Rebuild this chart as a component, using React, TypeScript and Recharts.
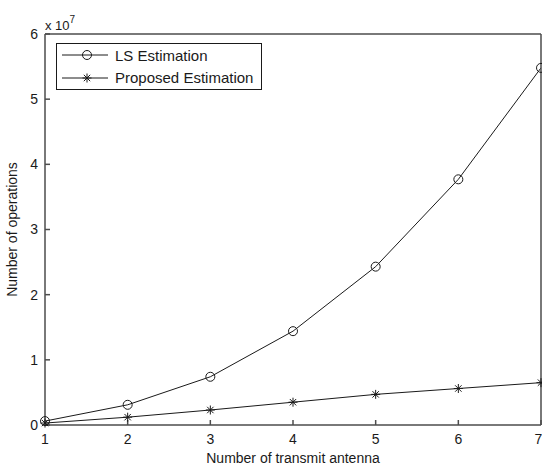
import React from "react";
import { LineChart, Line, XAxis, YAxis, Legend, Label } from "recharts";

// values in units of 1e7 operations
const antennas = [1, 2, 3, 4, 5, 6, 7];
const lsOps = [0.06, 0.31, 0.74, 1.44, 2.43, 3.77, 5.48];
const proposedOps = [0.03, 0.12, 0.23, 0.35, 0.47, 0.56, 0.65];
const xTicks = [1, 2, 3, 4, 5, 6, 7];
const yTicks = [0, 1, 2, 3, 4, 5, 6];

const data = antennas.map((n, i) => ({
  n,
  ls: lsOps[i],
  proposed: proposedOps[i],
}));

const INK = "#1a1a1a";
const AXIS = "#4d4d4d";
const FONT = "'Liberation Sans', Arial, sans-serif";

function CircleDot(props: any) {
  const { cx, cy } = props;
  if (cx == null || cy == null) return null;
  return <circle cx={cx} cy={cy} r={4.5} fill="none" stroke={INK} strokeWidth={1} />;
}

function StarDot(props: any) {
  const { cx, cy } = props;
  if (cx == null || cy == null) return null;
  const a = 4.5;
  const b = 3.2;
  return (
    <g stroke={INK} strokeWidth={1}>
      <line x1={cx} y1={cy - a} x2={cx} y2={cy + a} />
      <line x1={cx - a} y1={cy} x2={cx + a} y2={cy} />
      <line x1={cx - b} y1={cy - b} x2={cx + b} y2={cy + b} />
      <line x1={cx - b} y1={cy + b} x2={cx + b} y2={cy - b} />
    </g>
  );
}

function LegendBox({ payload }: any) {
  return (
    <div
      style={{
        border: `1px solid ${INK}`,
        background: "#fff",
        width: 204,
        height: 45,
        boxSizing: "content-box",
      }}
    >
      {(payload || []).map((p: any) => (
        <div
          key={p.dataKey}
          style={{ display: "flex", alignItems: "center", height: 22.5 }}
        >
          <svg width={50} height={14} style={{ marginLeft: 5 }}>
            <line x1={0} y1={7} x2={46} y2={7} stroke={INK} strokeWidth={1} />
            {p.dataKey === "ls" ? (
              <CircleDot cx={25} cy={7} />
            ) : (
              <StarDot cx={25} cy={7} />
            )}
          </svg>
          <span style={{ marginLeft: 3, fontSize: 15, color: INK }}>
            {p.value}
          </span>
        </div>
      ))}
    </div>
  );
}

export default function App() {
  return (
    <div
      style={{
        position: "absolute",
        left: 0,
        top: 0,
        width: 542,
        height: 466,
        background: "#fff",
        fontFamily: FONT,
      }}
    >
      <div
        style={{
          position: "absolute",
          left: 45,
          top: 12,
          fontSize: 13,
          color: INK,
          lineHeight: "16px",
        }}
      >
        x 10<sup style={{ fontSize: 10, verticalAlign: 7 }}>7</sup>
      </div>
      <LineChart
        width={542}
        height={466}
        data={data}
        margin={{ top: 33, right: 0, bottom: 0, left: 0 }}
      >
        <XAxis
          dataKey="n"
          type="number"
          domain={[1, 7]}
          ticks={xTicks}
          height={41}
          stroke={AXIS}
          strokeWidth={1.5}
          tickSize={-5}
          tickMargin={14}
          tick={{ fontSize: 14, fill: INK }}
        >
          <Label
            value="Number of transmit antenna"
            position="insideBottom"
            offset={3}
            style={{ fontSize: 14, fill: INK }}
          />
        </XAxis>
        <XAxis
          xAxisId="top"
          dataKey="n"
          type="number"
          orientation="top"
          domain={[1, 7]}
          ticks={xTicks}
          height={1}
          stroke={AXIS}
          strokeWidth={1.5}
          tickSize={-5}
          tick={false}
        />
        <YAxis
          type="number"
          domain={[0, 6]}
          ticks={yTicks}
          width={45}
          stroke={AXIS}
          strokeWidth={1.5}
          tickSize={-5}
          tickMargin={12}
          tick={{ fontSize: 14, fill: INK }}
        >
          <Label
            value="Number of operations"
            angle={-90}
            position="insideLeft"
            offset={12}
            style={{ fontSize: 14, fill: INK, textAnchor: "middle" }}
          />
        </YAxis>
        <YAxis
          yAxisId="right"
          orientation="right"
          type="number"
          domain={[0, 6]}
          ticks={yTicks}
          width={1}
          stroke={AXIS}
          strokeWidth={1.5}
          tickSize={-5}
          tick={false}
        />
        <Legend
          layout="vertical"
          align="center"
          verticalAlign="middle"
          content={<LegendBox />}
          wrapperStyle={{ left: 56, top: 43, width: 206, height: 47 }}
        />
        <Line
          dataKey="ls"
          name="LS Estimation"
          stroke={INK}
          strokeWidth={1}
          dot={<CircleDot />}
          isAnimationActive={false}
        />
        <Line
          dataKey="proposed"
          name="Proposed Estimation"
          stroke={INK}
          strokeWidth={1}
          dot={<StarDot />}
          isAnimationActive={false}
        />
      </LineChart>
    </div>
  );
}
